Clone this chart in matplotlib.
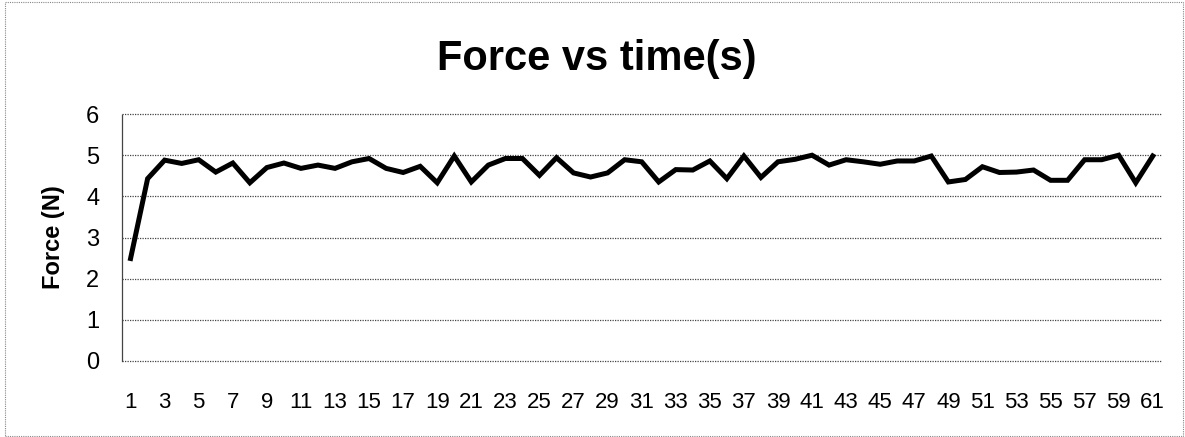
import matplotlib.pyplot as plt
from matplotlib.patches import Rectangle

plt.rcParams['font.family'] = ['Liberation Sans', 'DejaVu Sans']

tiempo = list(range(1, 62))
fuerza = [2.49, 4.43, 4.88, 4.80, 4.89, 4.59, 4.81, 4.33, 4.70, 4.81,
          4.68, 4.76, 4.68, 4.84, 4.92, 4.68, 4.58, 4.73, 4.33, 4.98,
          4.35, 4.76, 4.92, 4.92, 4.51, 4.94, 4.57, 4.47, 4.57, 4.89,
          4.84, 4.35, 4.65, 4.64, 4.86, 4.43, 4.98, 4.46, 4.84, 4.90,
          5.00, 4.76, 4.89, 4.84, 4.78, 4.86, 4.86, 4.98, 4.35, 4.41,
          4.72, 4.58, 4.59, 4.64, 4.39, 4.39, 4.89, 4.89, 5.00, 4.33,
          4.98]
etiquetas_x = [str(t) for t in tiempo[::2]]
ticks_y = [0, 1, 2, 3, 4, 5, 6]

fig = plt.figure(figsize=(11.85, 4.37), dpi=100)
ax = fig.add_axes([0.103, 0.174, 0.877, 0.565])

ax.plot(tiempo, fuerza, color="black", linewidth=3.6, solid_joinstyle="miter")

ax.set_xlim(0.5, 61.5)
ax.set_ylim(0, 6)
ax.set_xticks(tiempo[::2])
ax.set_xticklabels(etiquetas_x)
ax.set_yticks(ticks_y)
ax.tick_params(axis="both", length=0, labelsize=16, colors="black")
ax.tick_params(axis="x", pad=22)
ax.tick_params(axis="y", pad=16.5, labelsize=17)

# lineas de cuadricula punteadas (la de 0 hace de eje x)
for v in ticks_y:
    ax.axhline(v, color="#444444", linewidth=0.9, linestyle=(0, (1, 1)),
               zorder=0, clip_on=False)

for lado in ["top", "right", "bottom"]:
    ax.spines[lado].set_visible(False)
ax.spines["left"].set_linestyle((0, (1, 1)))
ax.spines["left"].set_color("#444444")
ax.spines["left"].set_linewidth(0.9)

ax.set_ylabel("Force (N)", fontsize=17, fontweight="bold")
ax.yaxis.set_label_coords(-0.055, 0.5)
fig.text(0.504, 0.840, "Force vs time(s)", fontsize=30, fontweight="bold",
         ha="center", va="baseline")

# marco exterior
fig.patches.append(Rectangle((0.004, 0.002), 0.994, 0.994, transform=fig.transFigure,
                             fill=False, edgecolor="#888888", linewidth=0.8,
                             linestyle=(0, (1, 1))))

fig.savefig("out.png", dpi=100)
